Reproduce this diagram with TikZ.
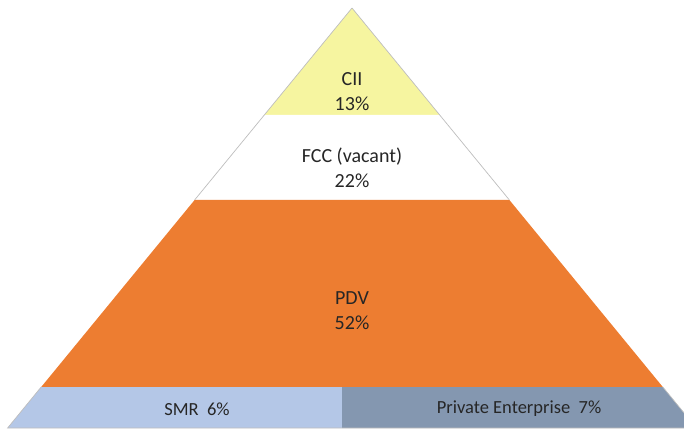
\documentclass[tikz,border=0pt]{standalone}
\usepackage{fontspec}
\setmainfont{Carlito}
\definecolor{cyel}{RGB}{246,245,160}
\definecolor{corg}{RGB}{237,125,49}
\definecolor{cblu}{RGB}{180,199,231}
\definecolor{cgry}{RGB}{132,151,176}
\definecolor{cedge}{RGB}{190,190,190}
\definecolor{ctxt}{RGB}{38,38,38}
\begin{document}
\begin{tikzpicture}[x=1pt,y=-1pt,
  lbl/.style={align=center,font=\fontsize{20}{25}\selectfont,text=ctxt,inner sep=0pt},
  blbl/.style={font=\fontsize{18.5}{20}\selectfont,text=ctxt,inner sep=0pt}]
\useasboundingbox (0,0) rectangle (684,430);
\clip (0,0) rectangle (684,430);
% layers
\fill[cyel] (352,8) -- (439.7,115) -- (264.3,115) -- cycle;
\fill[white] (264.3,115) -- (439.7,115) -- (509.4,200) -- (194.6,200) -- cycle;
\fill[corg] (194.6,200) -- (509.4,200) -- (662.8,387) -- (41.2,387) -- cycle;
\fill[cblu] (41.2,387) -- (342,387) -- (342,428) -- (7.6,428) -- cycle;
\fill[cgry] (342,387) -- (662.8,387) -- (696.4,428) -- (342,428) -- cycle;
% outline
\draw[cedge,line width=0.7pt] (352,8) -- (264.3,115) -- (194.6,200);
\draw[cedge,line width=0.7pt] (352,8) -- (439.7,115) -- (509.4,200);
\draw[cedge,line width=0.7pt] (41.2,387) -- (7.6,428) -- (696.4,428);
\draw[cedge,line width=0.7pt] (662.8,387) -- (696.4,428);
% labels
\node[lbl] (cii) at (352,92) {CII\\13\%};
\node[lbl] (fcc) at (352,168) {FCC (vacant)\\22\%};
\node[lbl] (pdv) at (352,311) {PDV\\52\%};
\node[blbl] (smr) at (197,409) {SMR\ \ 6\%};
\node[blbl] (pe) at (519,409) {Private Enterprise\ \ 7\%};
\end{tikzpicture}
\end{document}
